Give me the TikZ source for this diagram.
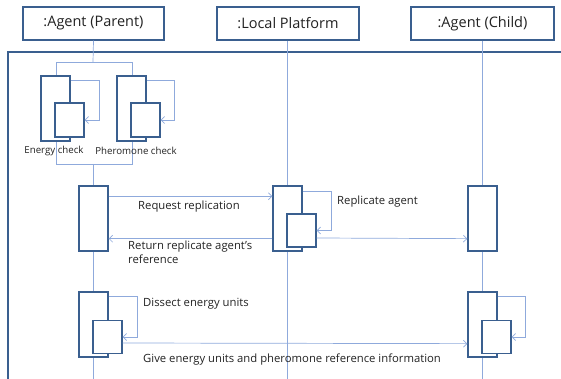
\documentclass[tikz,border=0pt]{standalone}
\usepackage{fontspec}
\setmainfont{Open Sans}
\usetikzlibrary{arrows.meta}
\definecolor{boxblue}{HTML}{3A5F8F}
\definecolor{lineblue}{HTML}{8FAADC}
\definecolor{txt}{HTML}{222222}
\begin{document}
\begin{tikzpicture}[
        x=1pt, y=-1pt,
        head/.style={draw=boxblue, line width=1.3pt, fill=white, minimum width=141pt, minimum height=33pt, inner sep=0pt, font=\fontsize{14.5}{16}\selectfont, text=txt},
        act/.style={draw=boxblue, line width=1.3pt, fill=white, minimum width=29pt, minimum height=65pt, inner sep=0pt},
        subact/.style={act, minimum height=33pt},
        life/.style={draw=lineblue, line width=0.7pt},
        msg/.style={draw=lineblue, line width=0.7pt, -{Straight Barb[length=3.5pt, width=7pt]}},
        lbl/.style={text=txt, font=\fontsize{11.3}{14}\selectfont, inner sep=0pt, anchor=west, align=left},
    ]
    \useasboundingbox (0,0) rectangle (561,379);
    \clip (0,0) rectangle (561,379);

    % header boxes
    \node[head] (parent) at (93.5,23.5) {:Agent (Parent)};
    \node[head, minimum width=142pt] (platform) at (288,23.5) {:Local Platform};
    \node[head, minimum width=143pt] (child) at (482.5,23.5) {:Agent (Child)};

    % frame
    \draw[boxblue, line width=1.3pt] (8,400) -- (8,52) -- (600,52);

    % lifelines
    \coordinate (forktop) at (93,62);
    \coordinate (forkbot) at (93,164);
    \coordinate (parentend) at (93,400);
    \coordinate (platformend) at (287,400);
    \coordinate (childend) at (482,400);
    \draw[life] (parent.south) -- (forktop);
    \draw[life] ([xshift=-37pt]forktop) rectangle ([xshift=39pt]forkbot);
    \draw[life] (forkbot) -- (parentend);
    \draw[life] ([xshift=-1pt]platform.south) -- (platformend);
    \draw[life] ([xshift=-0.5pt]child.south) -- (childend);

    % checks
    \node[act] (energy) at (55.5,108.5) {};
    \node[subact, minimum height=34pt] (energyin) at (69.5,120) {};
    \node[act] (phero) at (131.5,108.5) {};
    \node[subact, minimum height=34pt] (pheroin) at (145.5,120) {};
    \draw[msg] ([yshift=-5pt]energy.north east) -| ([xshift=15pt]energyin.east) -- (energyin.east);
    \draw[msg] ([yshift=-5pt]phero.north east) -| ([xshift=14pt]pheroin.east) -- (pheroin.east);
    \node[text=txt, font=\fontsize{9.7}{11}\selectfont, inner sep=0pt] (energylbl) at (54,151) {Energy check};
    \node[text=txt, font=\fontsize{9.7}{11}\selectfont, inner sep=0pt] (pherolbl) at (136,151) {Pheromone check};

    % replication
    \node[act] (par2) at (93.5,218.5) {};
    \node[act] (plat2) at (287.5,218.5) {};
    \node[subact] (platin) at (301.5,230.5) {};
    \node[act] (child2) at (482.5,218.5) {};
    \draw[msg] ([yshift=-11pt]par2.north east) -- ([yshift=-11pt]plat2.north west);
    \draw[msg] ([yshift=-6pt]plat2.north east) -| ([xshift=15pt]platin.east) -- (platin.east);
    \draw[msg] ([yshift=13pt]plat2.south west) -- ([yshift=13pt]par2.south east);
    \draw[msg] ([yshift=-7.5pt]platin.east) -- ([yshift=13pt]child2.south west);
    \node[lbl] (reqlbl) at (138,207) {Request replication};
    \node[lbl] (replbl) at (337,202) {Replicate agent};
    \node[lbl, anchor=north west] (retlbl) at (128,241) {Return replicate agent's\\reference};

    % energy units
    \node[act] (par3) at (93.5,324.5) {};
    \node[subact] (parin) at (107.5,337) {};
    \node[act] (child3) at (482.5,324.5) {};
    \node[subact] (childin) at (496.5,337) {};
    \draw[msg] ([yshift=-5pt]par3.north east) -| ([xshift=15pt]parin.east) -- (parin.east);
    \draw[msg] ([yshift=-5pt]child3.north east) -| ([xshift=14pt]childin.east) -- (childin.east);
    \draw[msg] ([yshift=-6pt]parin.east) -- ([yshift=14pt]child3.south west);
    \node[lbl] (dislbl) at (143,304) {Dissect energy units};
    \node[lbl] (givelbl) at (143,360) {Give energy units and pheromone reference information};
\end{tikzpicture}
\end{document}
